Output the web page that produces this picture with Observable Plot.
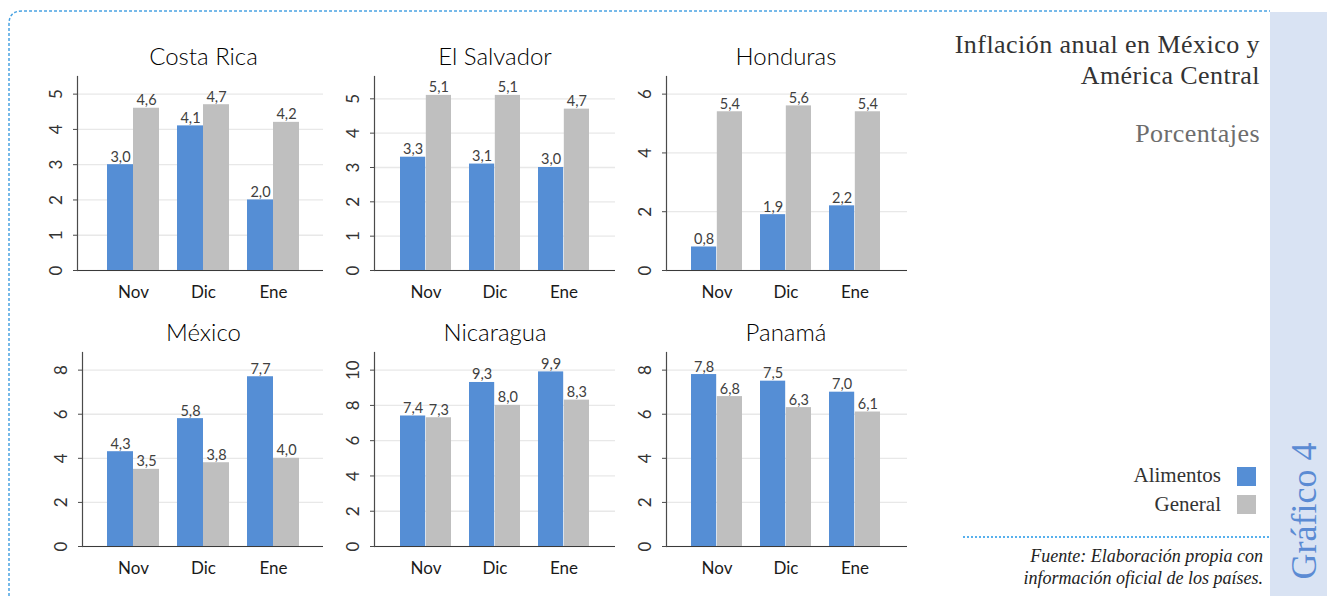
<!DOCTYPE html>
<html><head><meta charset="utf-8">
<script src="https://cdn.jsdelivr.net/npm/d3@7"></script>
<script src="https://cdn.jsdelivr.net/npm/@observablehq/plot@0.6"></script>
<style>
html,body{margin:0;padding:0;background:#fff;}
body{width:1327px;height:596px;overflow:hidden;position:relative;font-family:Lato,sans-serif;}
.panel{position:absolute;}
.abs{position:absolute;}
.serif{font-family:"Liberation Serif",serif;}
#title{right:67px;top:29px;font-size:26px;letter-spacing:0.45px;line-height:31px;color:#333;text-align:right;white-space:nowrap;}
#sub{right:67px;top:118px;font-size:26px;letter-spacing:0.45px;line-height:31px;color:#6d6d6d;text-align:right;}
.leg{right:106px;font-size:21px;line-height:24px;color:#333;text-align:right;white-space:nowrap;}
.sw{width:19px;height:19px;left:1237px;}
#src{right:64px;top:545px;font-size:18px;line-height:22px;font-style:italic;color:#222;text-align:right;white-space:nowrap;}
#strip{left:1270px;top:12px;width:57px;height:584px;background:#d9e3f3;}
#gnum{left:1304px;top:511px;transform:translate(-50%,-50%) rotate(-90deg);font-size:36px;color:#5b8bd3;white-space:nowrap;}
</style></head><body>
<div id="strip" class="abs"></div>
<svg class="abs" style="left:0;top:0" width="1327" height="596">
  <path d="M9 596 L9 24 Q9 11 22 11 L1270 11" fill="none" stroke="#4aa3e2" stroke-width="1.5" stroke-dasharray="3 2"/>
  <path d="M963 537 L1269 537" fill="none" stroke="#2196e8" stroke-width="1.4" stroke-dasharray="2 2"/>
</svg>
<div id="root"></div>
<div id="title" class="abs serif">Inflación anual en México y<br>América Central</div>
<div id="sub" class="abs serif">Porcentajes</div>
<div class="abs serif leg" style="top:463px">Alimentos</div>
<div class="abs serif leg" style="top:492px">General</div>
<div class="abs sw" style="top:467px;background:#558ed5"></div>
<div class="abs sw" style="top:495px;background:#bfbfbf"></div>
<div id="src" class="abs serif">Fuente: Elaboración propia con<br>información oficial de los países.</div>
<div id="gnum" class="abs serif">Gráfico 4</div>
<script>
// ---- data ----
const months = ["Nov", "Dic", "Ene"];
const seriesNames = ["Alimentos", "General"];
const countries = ["Costa Rica", "El Salvador", "Honduras", "México", "Nicaragua", "Panamá"];
const alimentos = [
  [3.0, 4.1, 2.0],
  [3.3, 3.1, 3.0],
  [0.8, 1.9, 2.2],
  [4.3, 5.8, 7.7],
  [7.4, 9.3, 9.9],
  [7.8, 7.5, 7.0]
];
const general = [
  [4.6, 4.7, 4.2],
  [5.1, 5.1, 4.7],
  [5.4, 5.6, 5.4],
  [3.5, 3.8, 4.0],
  [7.3, 8.0, 8.3],
  [6.8, 6.3, 6.1]
];
const yMax = [5.5, 5.65, 6.6, 8.8, 11, 8.8];
const yStep = [1, 1, 2, 2, 2, 2];
const colors = {Alimentos: "#558ed5", General: "#bfbfbf"};

// ---- layout (page pixels) ----
const layout = [
  {axisX: 77,  axisEnd: 323, top: 76,  base: 270, c0: 133, c2: 273},
  {axisX: 374, axisEnd: 615, top: 76,  base: 270, c0: 425, c2: 564},
  {axisX: 666, axisEnd: 907, top: 76,  base: 270, c0: 716, c2: 855},
  {axisX: 82,  axisEnd: 323, top: 352, base: 546, c0: 133, c2: 273},
  {axisX: 374, axisEnd: 615, top: 352, base: 546, c0: 425, c2: 564},
  {axisX: 666, axisEnd: 907, top: 352, base: 546, c0: 716, c2: 855}
];
const fmt = v => v.toFixed(1).replace(".", ",");
const root = document.getElementById("root");

countries.forEach((name, i) => {
  const L = layout[i];
  const ML = 60, MR = 12, MT = 50, MB = 44;
  const svgLeft = L.axisX - ML, svgTop = L.top - MT;
  const width = L.axisEnd - L.axisX + ML + MR;
  const height = L.base - L.top + MT + MB;
  const step = (L.c2 - L.c0) / 2;
  const pInner = 18 / 70;
  const bw = step * (1 - pInner);
  const half = bw / 2;
  const rowsA = months.map((m, j) => ({month: m, series: "Alimentos", value: alimentos[i][j]}));
  const rowsG = months.map((m, j) => ({month: m, series: "General", value: general[i][j]}));
  const chart = Plot.plot({
    width, height,
    marginLeft: ML, marginRight: MR, marginTop: MT, marginBottom: MB,
    style: {fontFamily: "Lato, sans-serif", color: "#404040", background: "transparent", overflow: "visible"},
    x: {domain: months, range: [L.c0 - step / 2 - svgLeft, L.c2 + step / 2 - svgLeft], paddingInner: pInner, paddingOuter: pInner / 2, align: 0.5},
    y: {domain: [0, yMax[i]]},
    marks: [
      Plot.gridY({interval: yStep[i], stroke: "#e8e8e8", strokeOpacity: 1, strokeWidth: 1.3}),
      Plot.barY(rowsA, {x: "month", y: "value", fill: colors.Alimentos, insetRight: half, insetLeft: 0}),
      Plot.barY(rowsG, {x: "month", y: "value", fill: colors.General, insetLeft: half, insetRight: 0}),
      Plot.text(rowsA, {x: "month", y: "value", text: d => fmt(d.value), dx: -half / 2, dy: -3, lineAnchor: "bottom", fontSize: 14.5, fill: "#404040"}),
      Plot.text(rowsG, {x: "month", y: "value", text: d => fmt(d.value), dx: half / 2, dy: -3, lineAnchor: "bottom", fontSize: 14.5, fill: "#404040"}),
      Plot.ruleY([0], {stroke: "#3a3a3a", strokeWidth: 1.2}),
      Plot.frame({anchor: "left", stroke: "#4a4a4a", strokeWidth: 1.2}),
      Plot.axisY({interval: yStep[i], tickFormat: d => String(d), tickRotate: -90, tickSize: 4, tickPadding: 12, fontSize: 17, label: null, stroke: "#4a4a4a", fill: "#333"}),
      Plot.axisX({tickSize: 0, tickPadding: 15, fontSize: 17, label: null, fill: "#1a1a1a"}),
      Plot.text([{m: "Dic", t: name}], {x: "m", text: "t", frameAnchor: "top", dy: -12, lineAnchor: "bottom", fontSize: 24, fontWeight: 300, fill: "#000"})
    ]
  });
  const wrap = document.createElement("div");
  wrap.className = "panel";
  wrap.style.left = svgLeft + "px";
  wrap.style.top = svgTop + "px";
  wrap.appendChild(chart);
  root.appendChild(wrap);
});
</script>
</body></html>
